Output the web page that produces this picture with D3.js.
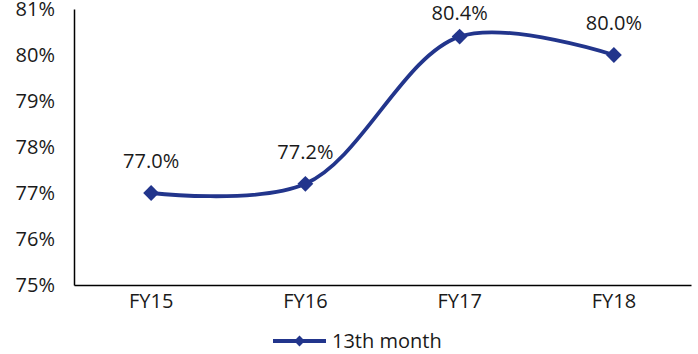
<!DOCTYPE html>
<html><head><meta charset="utf-8">
<script src="https://cdn.jsdelivr.net/npm/d3@7"></script>
<style>body{margin:0;background:#fff}svg{display:block}text{font-family:"Open Sans",sans-serif;fill:#1a1a1a}</style>
</head><body><svg id="c" width="698" height="354"></svg>
<script>
const categories = ["FY15","FY16","FY17","FY18"];
const values = [77.0, 77.2, 80.4, 80.0];
const labels = ["77.0%","77.2%","80.4%","80.0%"];
const yTicks = [75,76,77,78,79,80,81];
const seriesName = "13th month";

const svg = d3.select("#c");
const color = "#22358c";
const x = d3.scaleBand().domain(categories).range([74, 691]);
const y = d3.scaleLinear().domain([75, 81]).range([285, 9]);
const fs = 20;
const fw = 400;
const tc = "#1a1a1a";

// y axis
const ya = svg.append("g").attr("transform","translate(74,0)")
  .call(d3.axisLeft(y).tickValues(yTicks).tickSize(0).tickPadding(19).tickFormat(d=>d+"%"));
ya.select(".domain").attr("stroke","#000").attr("stroke-width",1.5);
ya.selectAll("text").attr("font-size",fs).attr("font-weight",fw).attr("font-family","Open Sans").attr("fill",tc);

// x axis
const xa = svg.append("g").attr("transform","translate(0,285)")
  .call(d3.axisBottom(x).tickSize(0).tickPadding(9));
xa.select(".domain").attr("stroke","#000").attr("stroke-width",1.5);
xa.selectAll("text").attr("font-size",fs).attr("font-weight",fw).attr("font-family","Open Sans").attr("fill",tc);

const cx = d => x(d) + x.bandwidth()/2;
const pts = categories.map((c,i)=>[cx(c), y(values[i])]);

svg.append("path").datum(pts)
  .attr("d", d3.line().curve(d3.curveCatmullRom.alpha(0.5)))
  .attr("fill","none").attr("stroke",color).attr("stroke-width",3.8);

const diamond = d3.symbol().type(d3.symbolDiamond2).size(160);
svg.selectAll(".m").data(pts).join("path")
  .attr("transform",d=>`translate(${d[0]},${d[1]})`)
  .attr("d", diamond).attr("fill",color);

svg.selectAll(".lbl").data(pts).join("text")
  .attr("x",d=>d[0]).attr("y",d=>Math.max(d[1]-25, 20))
  .attr("text-anchor","middle").attr("font-size",fs).attr("font-weight",fw).attr("fill",tc)
  .text((d,i)=>labels[i]);

// legend
const lg = svg.append("g");
lg.append("line").attr("x1",273).attr("x2",326).attr("y1",341).attr("y2",341)
  .attr("stroke",color).attr("stroke-width",3.8);
lg.append("path").attr("transform","translate(299.5,341)").attr("d", d3.symbol().type(d3.symbolDiamond2).size(75)).attr("fill",color);
lg.append("text").attr("x",332).attr("y",341).attr("dy","0.35em").attr("font-size",fs).attr("font-weight",fw).attr("fill",tc).text(seriesName);
</script></body></html>
